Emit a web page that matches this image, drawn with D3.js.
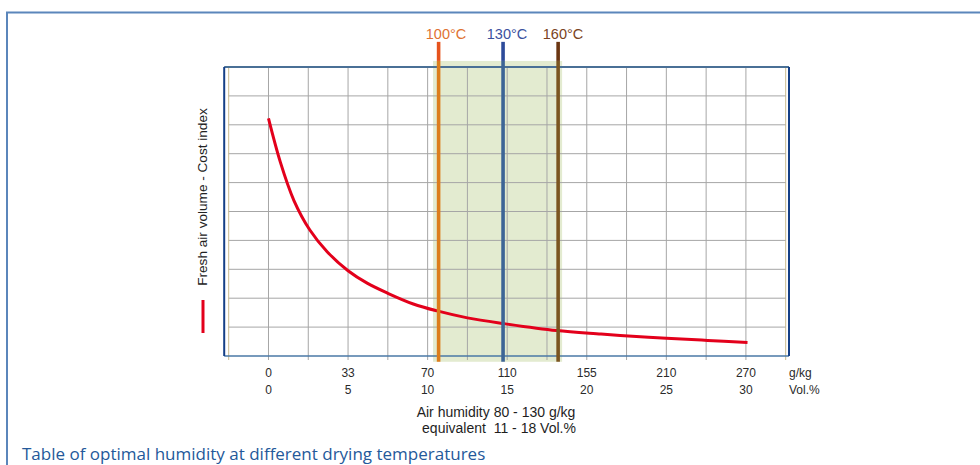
<!DOCTYPE html>
<html>
<head>
<meta charset="utf-8">
<script src="https://cdn.jsdelivr.net/npm/d3@7"></script>
<style>
  html, body { margin: 0; padding: 0; background: #fff; }
  svg { display: block; }
</style>
</head>
<body>
<svg id="chart" width="980" height="465"></svg>
<script>
// ---------- data ----------
const volTicks   = [0, 5, 10, 15, 20, 25, 30];            // Vol.% (lower label row)
const gkgLabels  = ["0", "33", "70", "110", "155", "210", "270"]; // g/kg (upper label row)
const gridX      = d3.range(-2.5, 32.6, 2.5);              // vertical grid lines (Vol.%)
const gridY      = d3.range(1, 10, 1);                     // horizontal grid lines (index)
const curveVol   = [0, 0.75, 1.6, 2.6, 3.7, 5, 6.2, 7.5, 9.1, 10.6, 12.5, 14.8, 18.1, 20.9, 22.1, 25, 27.6, 30.1];
const curveCost  = [8.22, 6.70, 5.38, 4.36, 3.60, 2.95, 2.52, 2.17, 1.80, 1.56, 1.32, 1.12, 0.88, 0.76, 0.71, 0.61, 0.54, 0.47];
const tempLabels = ["100°C", "130°C", "160°C"];
const tempVol    = [10.69, 14.74, 18.2];
const bandVol    = [10.34, 18.45];                         // optimal humidity range
const xUnits     = ["g/kg", "Vol.%"];
const yTitle     = "Fresh air volume - Cost index";
const noteLines  = ["Air humidity 80 - 130 g/kg", "equivalent  11 - 18 Vol.%"];
const caption    = "Table of optimal humidity at different drying temperatures";

// ---------- scales ----------
const svg = d3.select("#chart");
const x = d3.scaleLinear().domain([-2.5, 32.5]).range([228.7, 785.7]);
const y = d3.scaleLinear().domain([0, 10]).range([356, 67]);

const font = "'Liberation Sans', Arial, sans-serif";

// outer frame
svg.append("path")
  .attr("d", "M7,470 L7,12.5 L985,12.5")
  .attr("fill", "none").attr("stroke", "#5b86bb").attr("stroke-width", 2);

// band
svg.append("rect")
  .attr("x", x(bandVol[0])).attr("width", x(bandVol[1]) - x(bandVol[0]))
  .attr("y", y(10.21)).attr("height", y(-0.2) - y(10.21))
  .attr("fill", "#e3ebd0");

// vertical grid + ticks
svg.append("g").selectAll("line").data(gridX).join("line")
  .attr("x1", d => x(d)).attr("x2", d => x(d))
  .attr("y1", y(10)).attr("y2", y(0) + 4)
  .attr("stroke", (d, i) => (i === 0 || i === gridX.length - 1) ? "#c9bb8e" : "#a6a6a6")
  .attr("stroke-width", 1);

// horizontal grid
svg.append("g").selectAll("line").data(gridY).join("line")
  .attr("x1", x(-2.5)).attr("x2", x(32.5))
  .attr("y1", d => y(d)).attr("y2", d => y(d))
  .attr("stroke", "#a6a6a6").attr("stroke-width", 1);

// plot border
const L = x(-2.5) - 4.5, R = x(32.5) + 3.3, T = y(10), B = y(0);
svg.append("line").attr("x1", L).attr("x2", R).attr("y1", T).attr("y2", T)
  .attr("stroke", "#4a7096").attr("stroke-width", 2);
svg.append("line").attr("x1", L).attr("x2", R).attr("y1", B).attr("y2", B)
  .attr("stroke", "#4a78a6").attr("stroke-width", 1.5);
svg.append("line").attr("x1", L).attr("x2", L).attr("y1", T).attr("y2", B)
  .attr("stroke", "#153f86").attr("stroke-width", 2);
svg.append("line").attr("x1", R).attr("x2", R).attr("y1", T).attr("y2", B)
  .attr("stroke", "#153f86").attr("stroke-width", 2);

// curve
const line = d3.line().x(d => x(d[0])).y(d => y(d[1])).curve(d3.curveCatmullRom.alpha(0.5));
svg.append("path")
  .datum(curveVol.map((v, i) => [v, curveCost[i]]))
  .attr("d", line)
  .attr("fill", "none").attr("stroke", "#e3001b").attr("stroke-width", 3);

// temperature lines
const tempTop = ["#e6531d", "#2d4b9a", "#6b3612"];
const tempIn  = ["#dc7d1c", "#3d6596", "#7b5520"];
const tempTxt = ["#e07232", "#3b519e", "#7a4322"];
tempVol.forEach((v, i) => {
  svg.append("line").attr("x1", x(v)).attr("x2", x(v))
    .attr("y1", y(10.21)).attr("y2", y(-0.2))
    .attr("stroke", tempIn[i]).attr("stroke-width", 3.6);
  svg.append("line").attr("x1", x(v)).attr("x2", x(v))
    .attr("y1", y(10.87)).attr("y2", y(10.21))
    .attr("stroke", tempTop[i]).attr("stroke-width", 3.6);
});
const labelCx = [446, 507, 563];
svg.append("g").selectAll("text").data(tempLabels).join("text")
  .attr("x", (d, i) => labelCx[i]).attr("y", 39.3)
  .attr("text-anchor", "middle")
  .attr("font-family", font).attr("font-size", 14.5)
  .attr("fill", (d, i) => tempTxt[i])
  .text(d => d);

// x labels
svg.append("g").selectAll("text").data(gkgLabels).join("text")
  .attr("x", (d, i) => x(volTicks[i])).attr("y", 377.3)
  .attr("text-anchor", "middle").attr("font-family", font).attr("font-size", 12)
  .attr("fill", "#2a2a2a").text(d => d);
svg.append("g").selectAll("text").data(volTicks).join("text")
  .attr("x", d => x(d)).attr("y", 394)
  .attr("text-anchor", "middle").attr("font-family", font).attr("font-size", 12)
  .attr("fill", "#2a2a2a").text(d => d);
svg.append("g").selectAll("text").data(xUnits).join("text")
  .attr("x", 789).attr("y", (d, i) => i === 0 ? 377.3 : 394)
  .attr("font-family", font).attr("font-size", 12)
  .attr("fill", "#2a2a2a").text(d => d);

// note
svg.append("g").selectAll("text").data(noteLines).join("text")
  .attr("x", (d, i) => i === 0 ? 496 : 499).attr("y", (d, i) => i === 0 ? 416.5 : 433.3)
  .attr("text-anchor", "middle").attr("font-family", font).attr("font-size", 14)
  .attr("xml:space", "preserve")
  .attr("fill", "#1e1e1e").text(d => d);

// y title + legend
svg.append("text")
  .attr("transform", "translate(206.5,197) rotate(-90)")
  .attr("text-anchor", "middle").attr("font-family", font).attr("font-size", 13.6)
  .attr("fill", "#222").text(yTitle);
svg.append("line").attr("x1", 203).attr("x2", 203).attr("y1", 300).attr("y2", 333)
  .attr("stroke", "#e3001b").attr("stroke-width", 3);

// caption
svg.append("text")
  .attr("x", 22).attr("y", 459.5)
  .attr("font-family", "'Open Sans', 'Noto Sans', sans-serif").attr("font-size", 17)
  .attr("fill", "#24599a").text(caption);
</script>
</body>
</html>
